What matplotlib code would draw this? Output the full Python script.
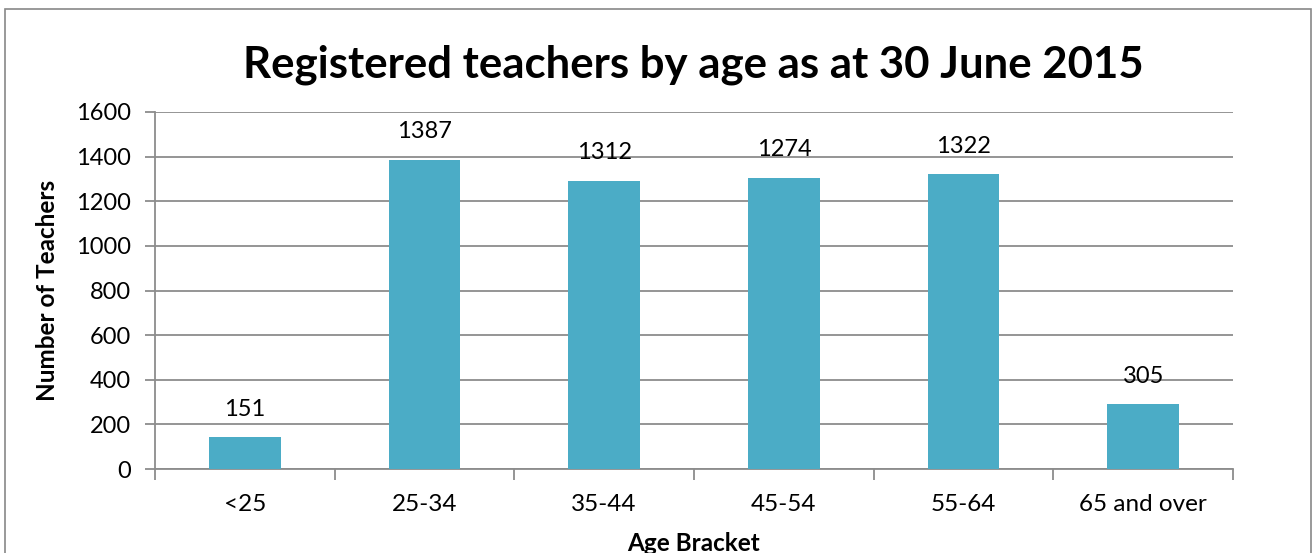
import matplotlib.pyplot as plt
import numpy as np
from matplotlib.patches import Rectangle

# Data (bar heights differ slightly from their printed labels)
age_brackets = ["<25", "25-34", "35-44", "45-54", "55-64", "65 and over"]
bar_heights = [143, 1387, 1291, 1306, 1321, 291]
bar_labels = ["151", "1387", "1312", "1274", "1322", "305"]
y_ticks = [0, 200, 400, 600, 800, 1000, 1200, 1400, 1600]

plt.rcParams["font.family"] = ["Lato", "DejaVu Sans"]
bar_color = "#4BACC6"
grid_color = "#8C8C8C"

fig = plt.figure(figsize=(13.12, 5.53), dpi=100)
ax = fig.add_axes([155 / 1312, 1 - 469 / 553, (1233 - 155) / 1312, (469 - 112) / 553])

# outer chart border
fig.patches.append(Rectangle((5 / 1312, -0.05), 1306 / 1312, 1 - 9 / 553 + 0.05,
                             transform=fig.transFigure, fill=False,
                             edgecolor="#888888", linewidth=1.2))

x = np.arange(len(age_brackets))
ax.bar(x, bar_heights, width=0.40, color=bar_color, zorder=3)
for xi, h, lab in zip(x, bar_heights, bar_labels):
    ax.annotate(lab, (xi, h), xytext=(0, 28), textcoords="offset pixels",
                ha="center", va="center", fontsize=17)

ax.set_xlim(-0.5, len(age_brackets) - 0.5)
ax.set_ylim(0, 1600)
ax.set_yticks(y_ticks)
ax.yaxis.grid(True, color=grid_color, linewidth=1.3, zorder=0)
ax.set_axisbelow(True)

ax.set_xticks(x)
ax.set_xticklabels(age_brackets, fontsize=17.5)
ax.set_xticks(np.arange(-0.5, len(age_brackets)), minor=True)
ax.tick_params(axis="x", which="major", length=0, pad=18)
ax.tick_params(axis="x", which="minor", length=8, color=grid_color, width=1.3)
ax.tick_params(axis="y", length=7, color=grid_color, width=1.3, labelsize=17, pad=10.5)

for side in ["top", "right"]:
    ax.spines[side].set_visible(False)
for side in ["left", "bottom"]:
    ax.spines[side].set_color(grid_color)
    ax.spines[side].set_linewidth(1.3)

ax.set_ylabel("Number of Teachers", fontsize=17.5, fontweight="bold", labelpad=12)
ax.set_xlabel("Age Bracket", fontsize=17.5, fontweight="bold", labelpad=12)
fig.text(693 / 1312, 1 - 65 / 553, "Registered teachers by age as at 30 June 2015",
         ha="center", va="center", fontsize=31.5, fontweight="bold")

fig.savefig("out.png", dpi=100)
